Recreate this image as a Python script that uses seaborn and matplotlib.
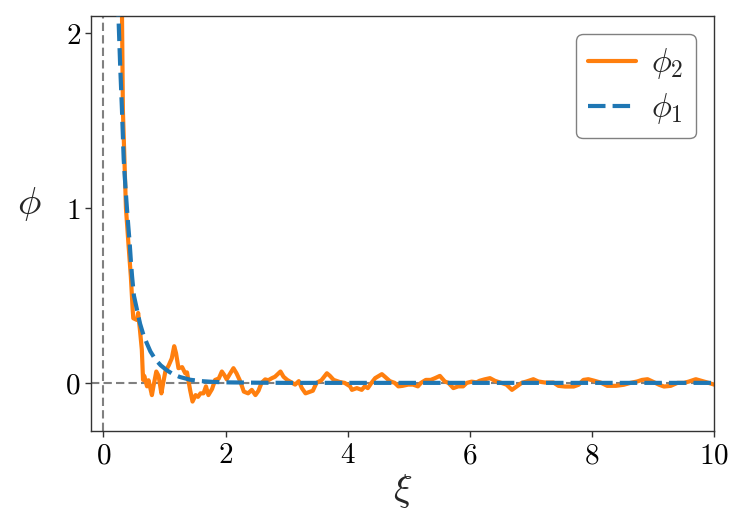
import numpy as np
import pandas as pd
import matplotlib
matplotlib.use("Agg")
import matplotlib.pyplot as plt
import seaborn as sns

sns.set_style("ticks")
plt.rcParams["mathtext.fontset"] = "cm"
plt.rcParams["font.family"] = ["DejaVu Serif"]

# phi_1 : smooth decaying curve
xi_1 = [0.22, 0.245, 0.275, 0.305, 0.333, 0.36, 0.386, 0.41, 0.43, 0.45, 0.47, 0.50, 0.55,
        0.60, 0.66, 0.72, 0.77, 0.85, 0.94, 1.04, 1.14, 1.25, 1.42, 1.60, 1.78, 2.0,
        2.5, 3.0, 4.0, 5.0, 6.0, 7.0, 8.0, 9.0, 10.0]
phi_1 = [2.5, 2.12, 1.82, 1.56, 1.28, 1.13, 1.0, 0.89, 0.805, 0.70, 0.61, 0.50, 0.42,
         0.34, 0.27, 0.22, 0.18, 0.135, 0.10, 0.072, 0.050, 0.034, 0.018, 0.010, 0.006, 0.003,
         0.001, 0.0, 0.0, 0.0, 0.0, 0.0, 0.0, 0.0, 0.0]

# phi_2 : noisy curve
xi_2 = [0.29, 0.305, 0.32, 0.37, 0.41, 0.45, 0.48, 0.49, 0.55, 0.57, 0.60, 0.63, 0.65,
        0.67, 0.715, 0.74, 0.795, 0.82, 0.867, 0.905, 0.95, 0.98, 1.015, 1.07, 1.12,
        1.16, 1.19, 1.23, 1.29, 1.34, 1.37, 1.42, 1.46, 1.51, 1.55, 1.59, 1.64, 1.68,
        1.72, 1.78, 1.83, 1.89, 1.94, 1.98, 2.02, 2.07, 2.13, 2.18, 2.24, 2.30, 2.37,
        2.43, 2.49, 2.54, 2.59, 2.65, 2.70, 2.76, 2.81, 2.90, 2.95, 3.01, 3.09, 3.14,
        3.20, 3.25, 3.31, 3.39, 3.43, 3.49, 3.57, 3.66, 3.71, 3.77, 3.87, 3.95, 4.04,
        4.07, 4.15, 4.23, 4.28, 4.33, 4.39, 4.45, 4.56, 4.61, 4.69, 4.77, 4.83, 4.90,
        4.99, 5.07, 5.15, 5.20, 5.28, 5.36, 5.43, 5.51, 5.59, 5.65, 5.73, 5.81, 5.89,
        5.95, 6.03, 6.11, 6.16, 6.24, 6.33, 6.41, 6.49, 6.60, 6.69, 6.77, 6.85, 6.93,
        7.04, 7.12, 7.23, 7.37, 7.45, 7.56, 7.70, 7.78, 7.86, 7.94, 8.03, 8.14, 8.25,
        8.39, 8.52, 8.63, 8.74, 8.82, 8.91, 8.99, 9.10, 9.18, 9.29, 9.40, 9.51, 9.59,
        9.70, 9.78, 9.89, 10.0]
phi_2 = [2.4, 2.12, 1.56, 1.0, 0.80, 0.61, 0.42, 0.37, 0.36, 0.40, 0.30, 0.19, 0.017,
         0.04, -0.02, 0.015, -0.07, -0.02, 0.065, 0.04, -0.06, 0.0, 0.065, 0.10, 0.14,
         0.21, 0.17, 0.084, 0.09, 0.055, 0.06, -0.04, -0.107, -0.07, -0.08, -0.06, -0.06, -0.02,
         -0.07, -0.035, 0.017, 0.025, 0.065, 0.045, 0.02, 0.05, 0.084, 0.055, 0.01, -0.05, -0.06,
         -0.04, -0.07, -0.045, 0.0, 0.02, 0.015, 0.027, 0.035, 0.065, 0.035, 0.017, 0.0, -0.01,
         0.01, -0.03, -0.06, -0.05, -0.045, 0.0, 0.015, 0.055, 0.04, 0.017, 0.005, 0.0, -0.02,
         -0.04, -0.03, -0.04, -0.02, -0.03, 0.0, 0.027, 0.05, 0.035, 0.01, 0.0, -0.02, -0.017,
         -0.01, -0.01, -0.02, 0.0, 0.017, 0.017, 0.027, 0.04, 0.008, 0.0, -0.03, -0.02, -0.02,
         0.0, 0.007, 0.003, 0.012, 0.02, 0.027, 0.012, 0.003, -0.01, -0.04, -0.02, 0.0, 0.008,
         0.021, 0.008, 0.002, 0.002, -0.017, -0.021, -0.021, -0.011, 0.017, 0.021, 0.013, 0.002, -0.017,
         -0.017, -0.011, 0.0, 0.008, 0.017, 0.021, 0.008, -0.011, -0.021, -0.017, 0.0, 0.0, 0.008,
         0.021, 0.013, 0.002, -0.01]

xticks = [0, 2, 4, 6, 8, 10]
yticks = [0, 1, 2]

fig, ax = plt.subplots(figsize=(7.47, 5.32), dpi=100)
fig.subplots_adjust(left=0.122, right=0.956, top=0.970, bottom=0.190)

ax.axhline(0, color="gray", ls=(0, (4, 2)), lw=1.5, zorder=1)
ax.axvline(0, color="gray", ls=(0, (4, 2)), lw=1.5, zorder=1)

sns.lineplot(x=xi_2, y=phi_2, ax=ax, color="#ff7f0e", lw=3, label=r"$\phi_2$", zorder=2)
sns.lineplot(x=xi_1, y=phi_1, ax=ax, color="#1f77b4", lw=3, ls=(0, (4.2, 1.7)),
             label=r"$\phi_1$", zorder=3)

ax.set_xlim(-0.2, 10)
ax.set_ylim(-0.275, 2.1)
ax.set_xticks(xticks)
ax.set_xticklabels([f"${t}$" for t in xticks], fontsize=21)
ax.set_yticks(yticks)
ax.set_yticklabels([f"${t}$" for t in yticks], fontsize=21)
ax.tick_params(direction="out", length=4, width=1, colors="#333333", labelcolor="black")
for s in ax.spines.values():
    s.set_color("#333333")
    s.set_linewidth(1)

ax.set_xlabel(r"$\xi$", fontsize=28, labelpad=2)
ax.set_ylabel(r"$\phi$", fontsize=28, rotation=0, labelpad=22)
ax.yaxis.set_label_coords(-0.1, 0.5)

leg = ax.legend(loc="upper right", fontsize=24, frameon=True, fancybox=True,
                edgecolor="gray", framealpha=1, handlelength=1.45, handletextpad=0.45,
                borderaxespad=0.55, borderpad=0.36, labelspacing=0.3)
leg.get_frame().set_linewidth(1)

fig.savefig("out.png", dpi=100)
